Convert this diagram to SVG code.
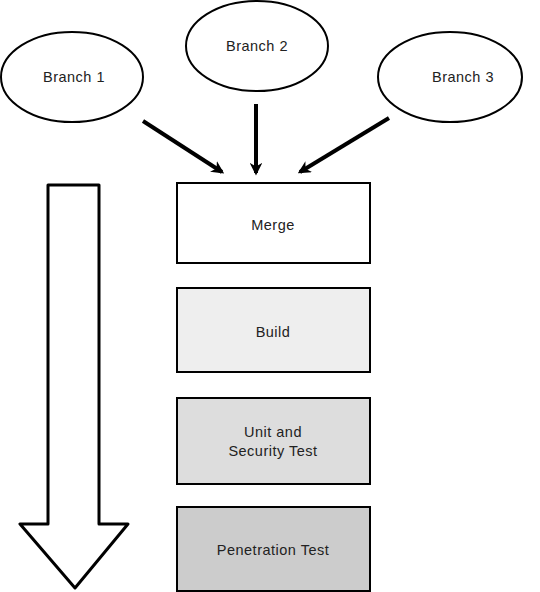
<svg xmlns="http://www.w3.org/2000/svg" width="540" height="592" viewBox="0 0 540 592">
<style>
.n{stroke:#000;stroke-width:2}
.t{font-family:"Liberation Sans",Arial,sans-serif;font-size:14.5px;letter-spacing:0.5px;fill:#222;text-anchor:middle;dominant-baseline:central}
.c{stroke:#000;stroke-width:4;fill:none}
</style>
<defs>
<marker id="ah" viewBox="0 0 10 10" refX="8" refY="5" markerWidth="3.2" markerHeight="3.2" orient="auto" markerUnits="strokeWidth">
<path d="M0,0 L10,5 L0,10 L3,5 z" fill="#000"/>
</marker>
</defs>
<rect width="540" height="592" fill="#fff"/>
<g id="connectors">
<line class="c" x1="143" y1="121" x2="222" y2="172" marker-end="url(#ah)"/>
<line class="c" x1="256" y1="104" x2="256" y2="173" marker-end="url(#ah)"/>
<line class="c" x1="389" y1="118" x2="300" y2="172" marker-end="url(#ah)"/>
</g>
<g id="big-arrow">
<path d="M48,185 L99,185 L99,524 L128,524 L75,588 L20,524 L48,524 Z" fill="#fff" stroke="#000" stroke-width="3" stroke-linejoin="round"/>
</g>
<g id="branch1"><ellipse class="n" cx="72" cy="77" rx="71" ry="45" fill="#fff"/><text class="t" x="74" y="77">Branch 1</text></g>
<g id="branch2"><ellipse class="n" cx="257" cy="46" rx="71" ry="45" fill="#fff"/><text class="t" x="257" y="46">Branch 2</text></g>
<g id="branch3"><ellipse class="n" cx="450" cy="77" rx="72" ry="45" fill="#fff"/><text class="t" x="463" y="77">Branch 3</text></g>
<g id="merge"><rect class="n" x="177" y="183" width="193" height="80" fill="#fff"/><text class="t" x="273" y="225">Merge</text></g>
<g id="build"><rect class="n" x="177" y="288" width="193" height="84" fill="#eeeeee"/><text class="t" x="273" y="332">Build</text></g>
<g id="unit"><rect class="n" x="177" y="398" width="193" height="86" fill="#dddddd"/><text class="t" x="273" y="432">Unit and</text><text class="t" x="273" y="451">Security Test</text></g>
<g id="pentest"><rect class="n" x="177" y="507" width="193" height="84" fill="#cccccc"/><text class="t" x="273" y="550">Penetration Test</text></g>
</svg>
